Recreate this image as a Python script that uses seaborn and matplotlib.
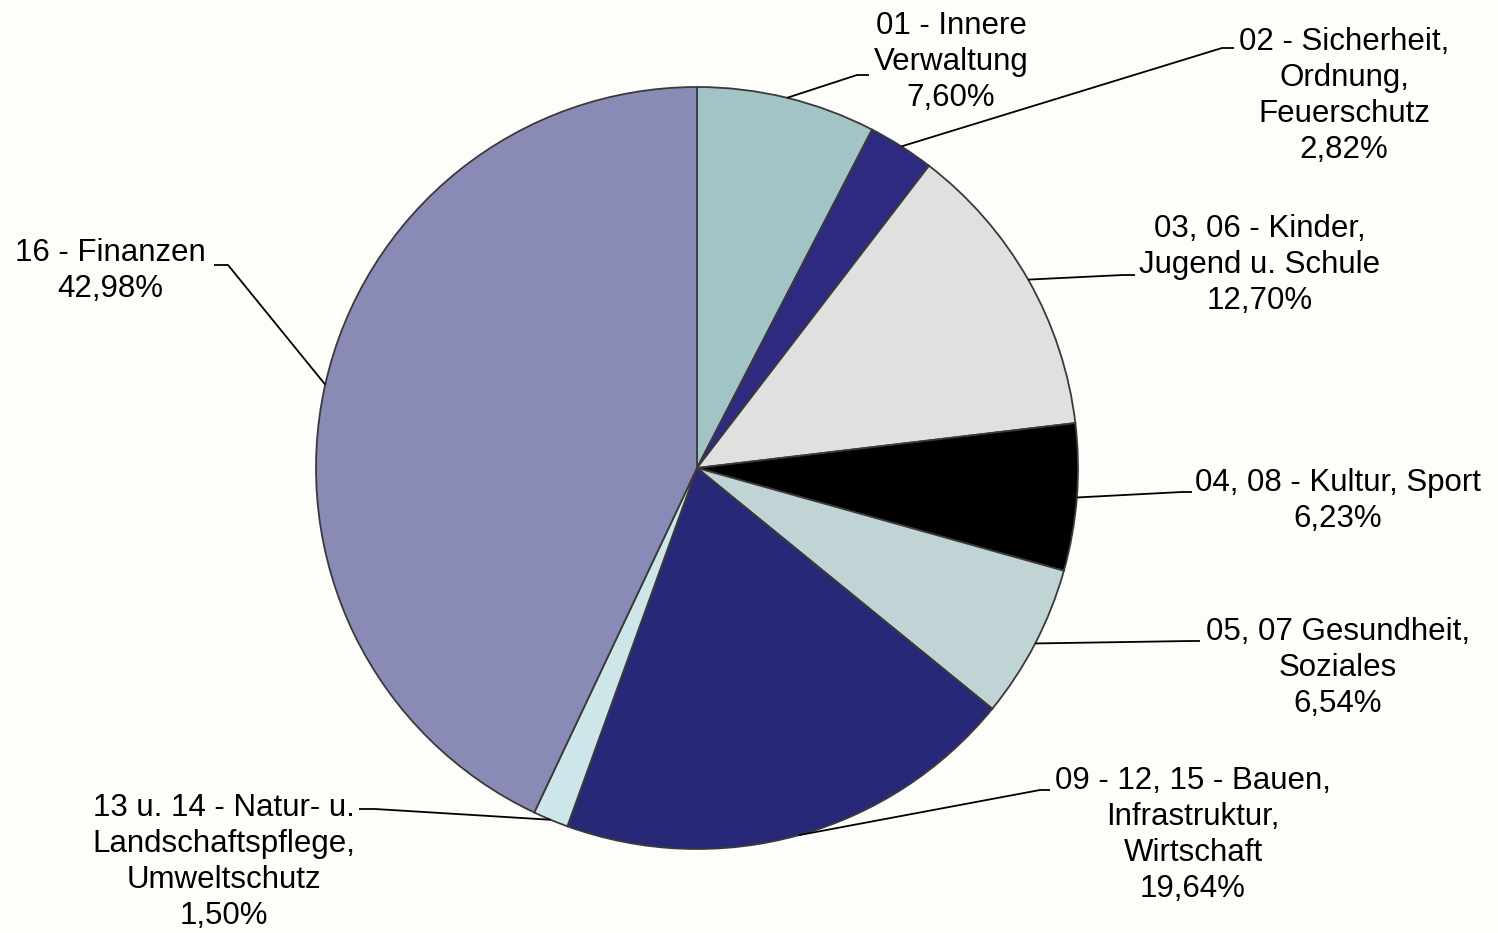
import numpy as np
import matplotlib
matplotlib.use('Agg')
import matplotlib.pyplot as plt
import seaborn as sns

# data
categories=['01 - Innere\nVerwaltung','02 - Sicherheit,\nOrdnung,\nFeuerschutz','03, 06 - Kinder,\nJugend u. Schule',
            '04, 08 - Kultur, Sport','05, 07 Gesundheit,\nSoziales','09 - 12, 15 - Bauen,\nInfrastruktur,\nWirtschaft',
            '13 u. 14 - Natur- u.\nLandschaftspflege,\nUmweltschutz','16 - Finanzen']
shares=[7.60,2.82,12.70,6.23,6.54,19.64,1.50,42.98]
colors=['#A3C4C6','#2E2A80','#E0E0E0','#000000','#C0D4D6','#282878','#CCE6EA','#8A8AB6']

sns.set_style('white')
plt.rcParams['font.family']=['Liberation Sans','DejaVu Sans']

W,H=1498,933
cx,cy,R=697,468,381
def px(x,y):#pixel -> data coords
    return (x-cx)/R,(cy-y)/R

fig=plt.figure(figsize=(W/100,H/100),dpi=100,facecolor='#FDFDF9')
ax=fig.add_axes([0,0,1,1])
ax.set_facecolor('#FDFDF9')

wedges,_=ax.pie(shares,colors=sns.color_palette(colors),startangle=90,counterclock=False,radius=1,
                wedgeprops=dict(edgecolor='#3a3a3a',linewidth=1.3))

# label layout: text block center, elbow, line end (pixels)
layout=[((951,62),(857,75),(869,75)),
        ((1344,96),(1222,48),(1234,48)),
        ((1260,265),(1123,275),(1135,275)),
        ((1338,501),(1182,492),(1192,492)),
        ((1338,668),(1190,641),(1200,641)),
        ((1193,835),(1040,790),(1050,790)),
        ((224,862),(375,809),(359,809)),
        ((110,271),(228,265),(214,265))]

for w,cat,val,(tpos,elb,end) in zip(wedges,categories,shares,layout):
    ang=np.deg2rad((w.theta1+w.theta2)/2)
    sx,sy=np.cos(ang),np.sin(ang)
    ex,ey=px(*elb)
    nx,ny=px(*end)
    ax.plot([sx,ex,nx],[sy,ey,ny],color='black',lw=1.3,solid_capstyle='butt')
    lbl=cat+'\n'+f'{val:.2f}'.replace('.',',')+'%'
    tx,ty=px(*tpos)
    ax.text(tx,ty,lbl,ha='center',va='center',multialignment='center',fontsize=22.5,
            linespacing=1.27,color='black')

ax.set_xlim(-cx/R,(W-cx)/R)
ax.set_ylim(-(H-cy)/R,cy/R)
ax.set_aspect('equal')
ax.axis('off')

plt.savefig('out.png',dpi=100,facecolor=fig.get_facecolor())
